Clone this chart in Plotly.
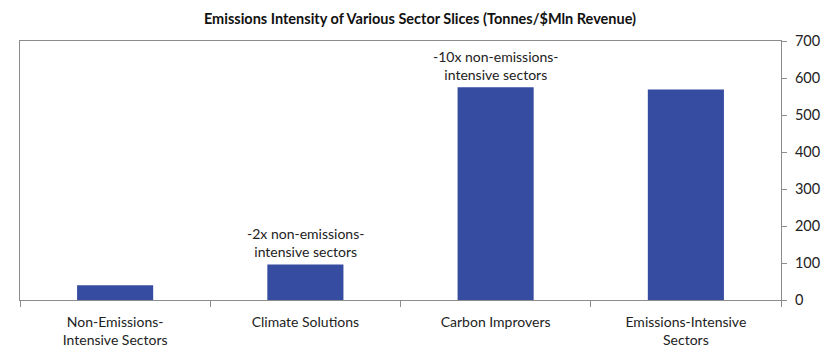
import plotly.graph_objects as go

categories = ["Non-Emissions-<br>Intensive Sectors", "Climate Solutions", "Carbon Improvers", "Emissions-Intensive<br>Sectors"]
values = [40, 96, 575, 569]
notes = ["", "-2x non-emissions-<br>intensive sectors", "-10x non-emissions-<br>intensive sectors", ""]
y_ticks = [0, 100, 200, 300, 400, 500, 600, 700]

FONT = "Lato"
fig = go.Figure()
fig.add_trace(go.Bar(x=categories, y=values, width=0.4,
                     marker=dict(color="#354CA1", line=dict(width=0))))

for c, v, n in zip(categories, values, notes):
    if n:
        fig.add_annotation(x=c, y=v, text=n, showarrow=False, yanchor="bottom", yshift=2,
                           font=dict(family=FONT, size=14, color="#222"))

# page body has an 8px margin, so the figure is sized to fit 840x356 with it
fig.update_layout(
    width=824, height=340,
    margin=dict(l=12, r=51, t=33, b=48),
    paper_bgcolor="white", plot_bgcolor="white",
    showlegend=False,
    title=dict(text="<b>Emissions Intensity of Various Sector Slices (Tonnes/$Mln Revenue)</b>",
               x=0.5, xanchor="center", y=1 - 11 / 340, yanchor="middle",
               font=dict(family=FONT, size=14.5, color="#111")),
    font=dict(family=FONT, size=14, color="#222"),
)
fig.update_xaxes(showline=True, linecolor="#8c8c8c", linewidth=1, mirror=True,
                 ticks="outside", tickson="boundaries", ticklen=6, tickcolor="#8c8c8c",
                 ticklabelstandoff=9, automargin=False,
                 showgrid=False, tickfont=dict(family=FONT, size=14, color="#222"))
fig.update_yaxes(side="right", range=[0, 700], tickvals=y_ticks, showline=True,
                 linecolor="#8c8c8c", linewidth=1, mirror=True, ticks="outside", ticklen=5,
                 ticklabelstandoff=5, automargin=False,
                 tickcolor="#8c8c8c", showgrid=False, zeroline=False,
                 tickfont=dict(family=FONT, size=14.5, color="#222"))

fig.write_html("out.html")
